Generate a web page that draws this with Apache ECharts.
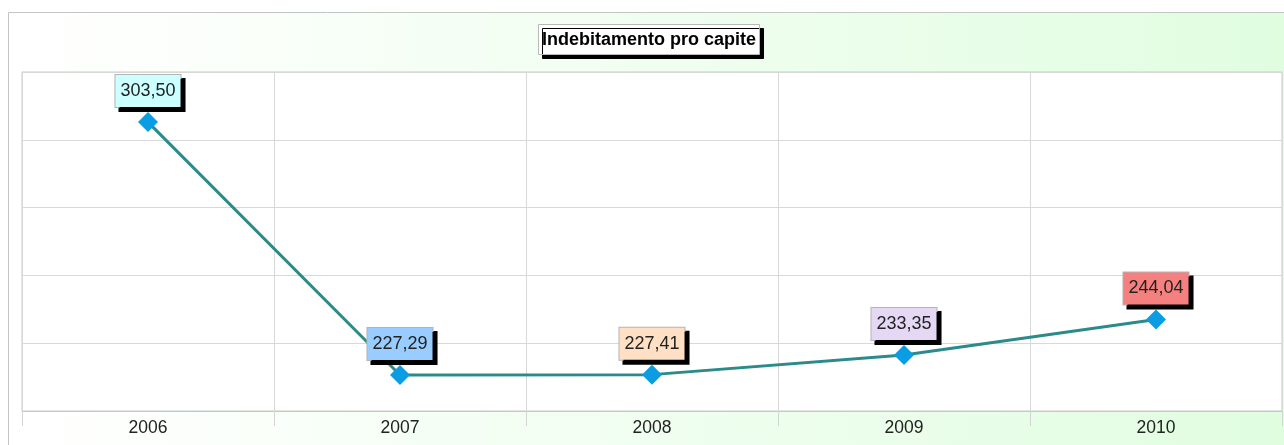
<!DOCTYPE html>
<html>
<head>
<meta charset="utf-8">
<script src="https://cdn.jsdelivr.net/npm/echarts@6/dist/echarts.min.js"></script>
<style>
  html, body { margin: 0; padding: 0; background: #ffffff; }
  #chart { width: 1284px; height: 445px; }
</style>
</head>
<body>
<div id="chart"></div>
<script>
// Per-capita debt by year
const years = ['2006', '2007', '2008', '2009', '2010'];
const debtPerCapita = [303.50, 227.29, 227.41, 233.35, 244.04];
const labelColors = ['#ccffff', '#99ccff', '#ffe0c4', '#e4d8f4', '#f58080'];
const chartTitle = 'Indebitamento pro capite';

const fmt = v => v.toFixed(2).replace('.', ',');

const chart = echarts.init(document.getElementById('chart'), null, { renderer: 'canvas' });

chart.setOption({
  animation: false,
  backgroundColor: '#ffffff',
  textStyle: { fontFamily: '"Liberation Sans", Arial, sans-serif' },
  graphic: [{
    type: 'rect',
    z: -100,
    shape: { x: 8.5, y: 12.5, width: 1300, height: 460 },
    style: {
      fill: new echarts.graphic.LinearGradient(0, 0, 1, 0, [
        { offset: 0, color: '#ffffff' },
        { offset: 0.08, color: '#fdfffd' },
        { offset: 1, color: '#e0fde0' }
      ]),
      stroke: '#c4c4c4',
      lineWidth: 1
    }
  }],
  title: {
    text: chartTitle,
    left: 538,
    top: 24,
    padding: [7, 4, 6, 4],
    backgroundColor: '#ffffff',
    borderColor: '#b8b8b8',
    borderWidth: 1,
    shadowColor: '#000000',
    shadowOffsetX: 4,
    shadowOffsetY: 4,
    shadowBlur: 0,
    textStyle: {
      fontFamily: '"Liberation Sans", Arial, sans-serif',
      fontSize: 18,
      fontWeight: 'bold',
      color: '#000000',
      lineHeight: 18
    }
  },
  grid: {
    left: 22,
    right: 2,
    top: 72,
    bottom: 34,
    show: true,
    backgroundColor: '#ffffff',
    borderColor: '#c8c8c8',
    borderWidth: 1
  },
  xAxis: {
    type: 'category',
    data: years,
    boundaryGap: true,
    axisLine: { show: true, lineStyle: { color: '#c8c8c8', width: 1 } },
    axisTick: { show: true, length: 15, lineStyle: { color: '#d4d4d4' } },
    splitLine: { show: true, lineStyle: { color: '#d8d8d8', width: 1 } },
    axisLabel: {
      color: '#222222',
      fontSize: 17.5,
      margin: 8,
      fontFamily: '"Liberation Sans", Arial, sans-serif'
    }
  },
  yAxis: [{
    type: 'value',
    min: 216.45,
    max: 318.6,
    axisLine: { show: false },
    axisTick: { show: false },
    axisLabel: { show: false },
    splitLine: { show: false }
  }, {
    // evenly spaced horizontal grid lines
    type: 'value',
    min: 0,
    max: 5,
    interval: 1,
    position: 'left',
    axisLine: { show: false },
    axisTick: { show: false },
    axisLabel: { show: false },
    splitLine: { show: true, lineStyle: { color: '#d8d8d8', width: 1 } }
  }],
  series: [{
    type: 'line',
    yAxisIndex: 0,
    data: debtPerCapita.map((v, i) => ({
      value: v,
      label: { backgroundColor: labelColors[i] }
    })),
    symbol: 'diamond',
    symbolSize: 20,
    itemStyle: { color: '#0b9de3' },
    lineStyle: { color: '#2b8b8b', width: 3 },
    z: 5,
    label: {
      show: true,
      position: 'top',
      distance: 5,
      formatter: p => fmt(p.value),
      fontFamily: '"Liberation Sans", Arial, sans-serif',
      fontSize: 18,
      lineHeight: 18,
      color: '#222222',
      padding: [7, 5, 7, 5],
      borderColor: '#b4b4b4',
      borderWidth: 1,
      shadowColor: '#000000',
      shadowOffsetX: 4,
      shadowOffsetY: 4,
      shadowBlur: 0
    }
  }]
});
</script>
</body>
</html>
